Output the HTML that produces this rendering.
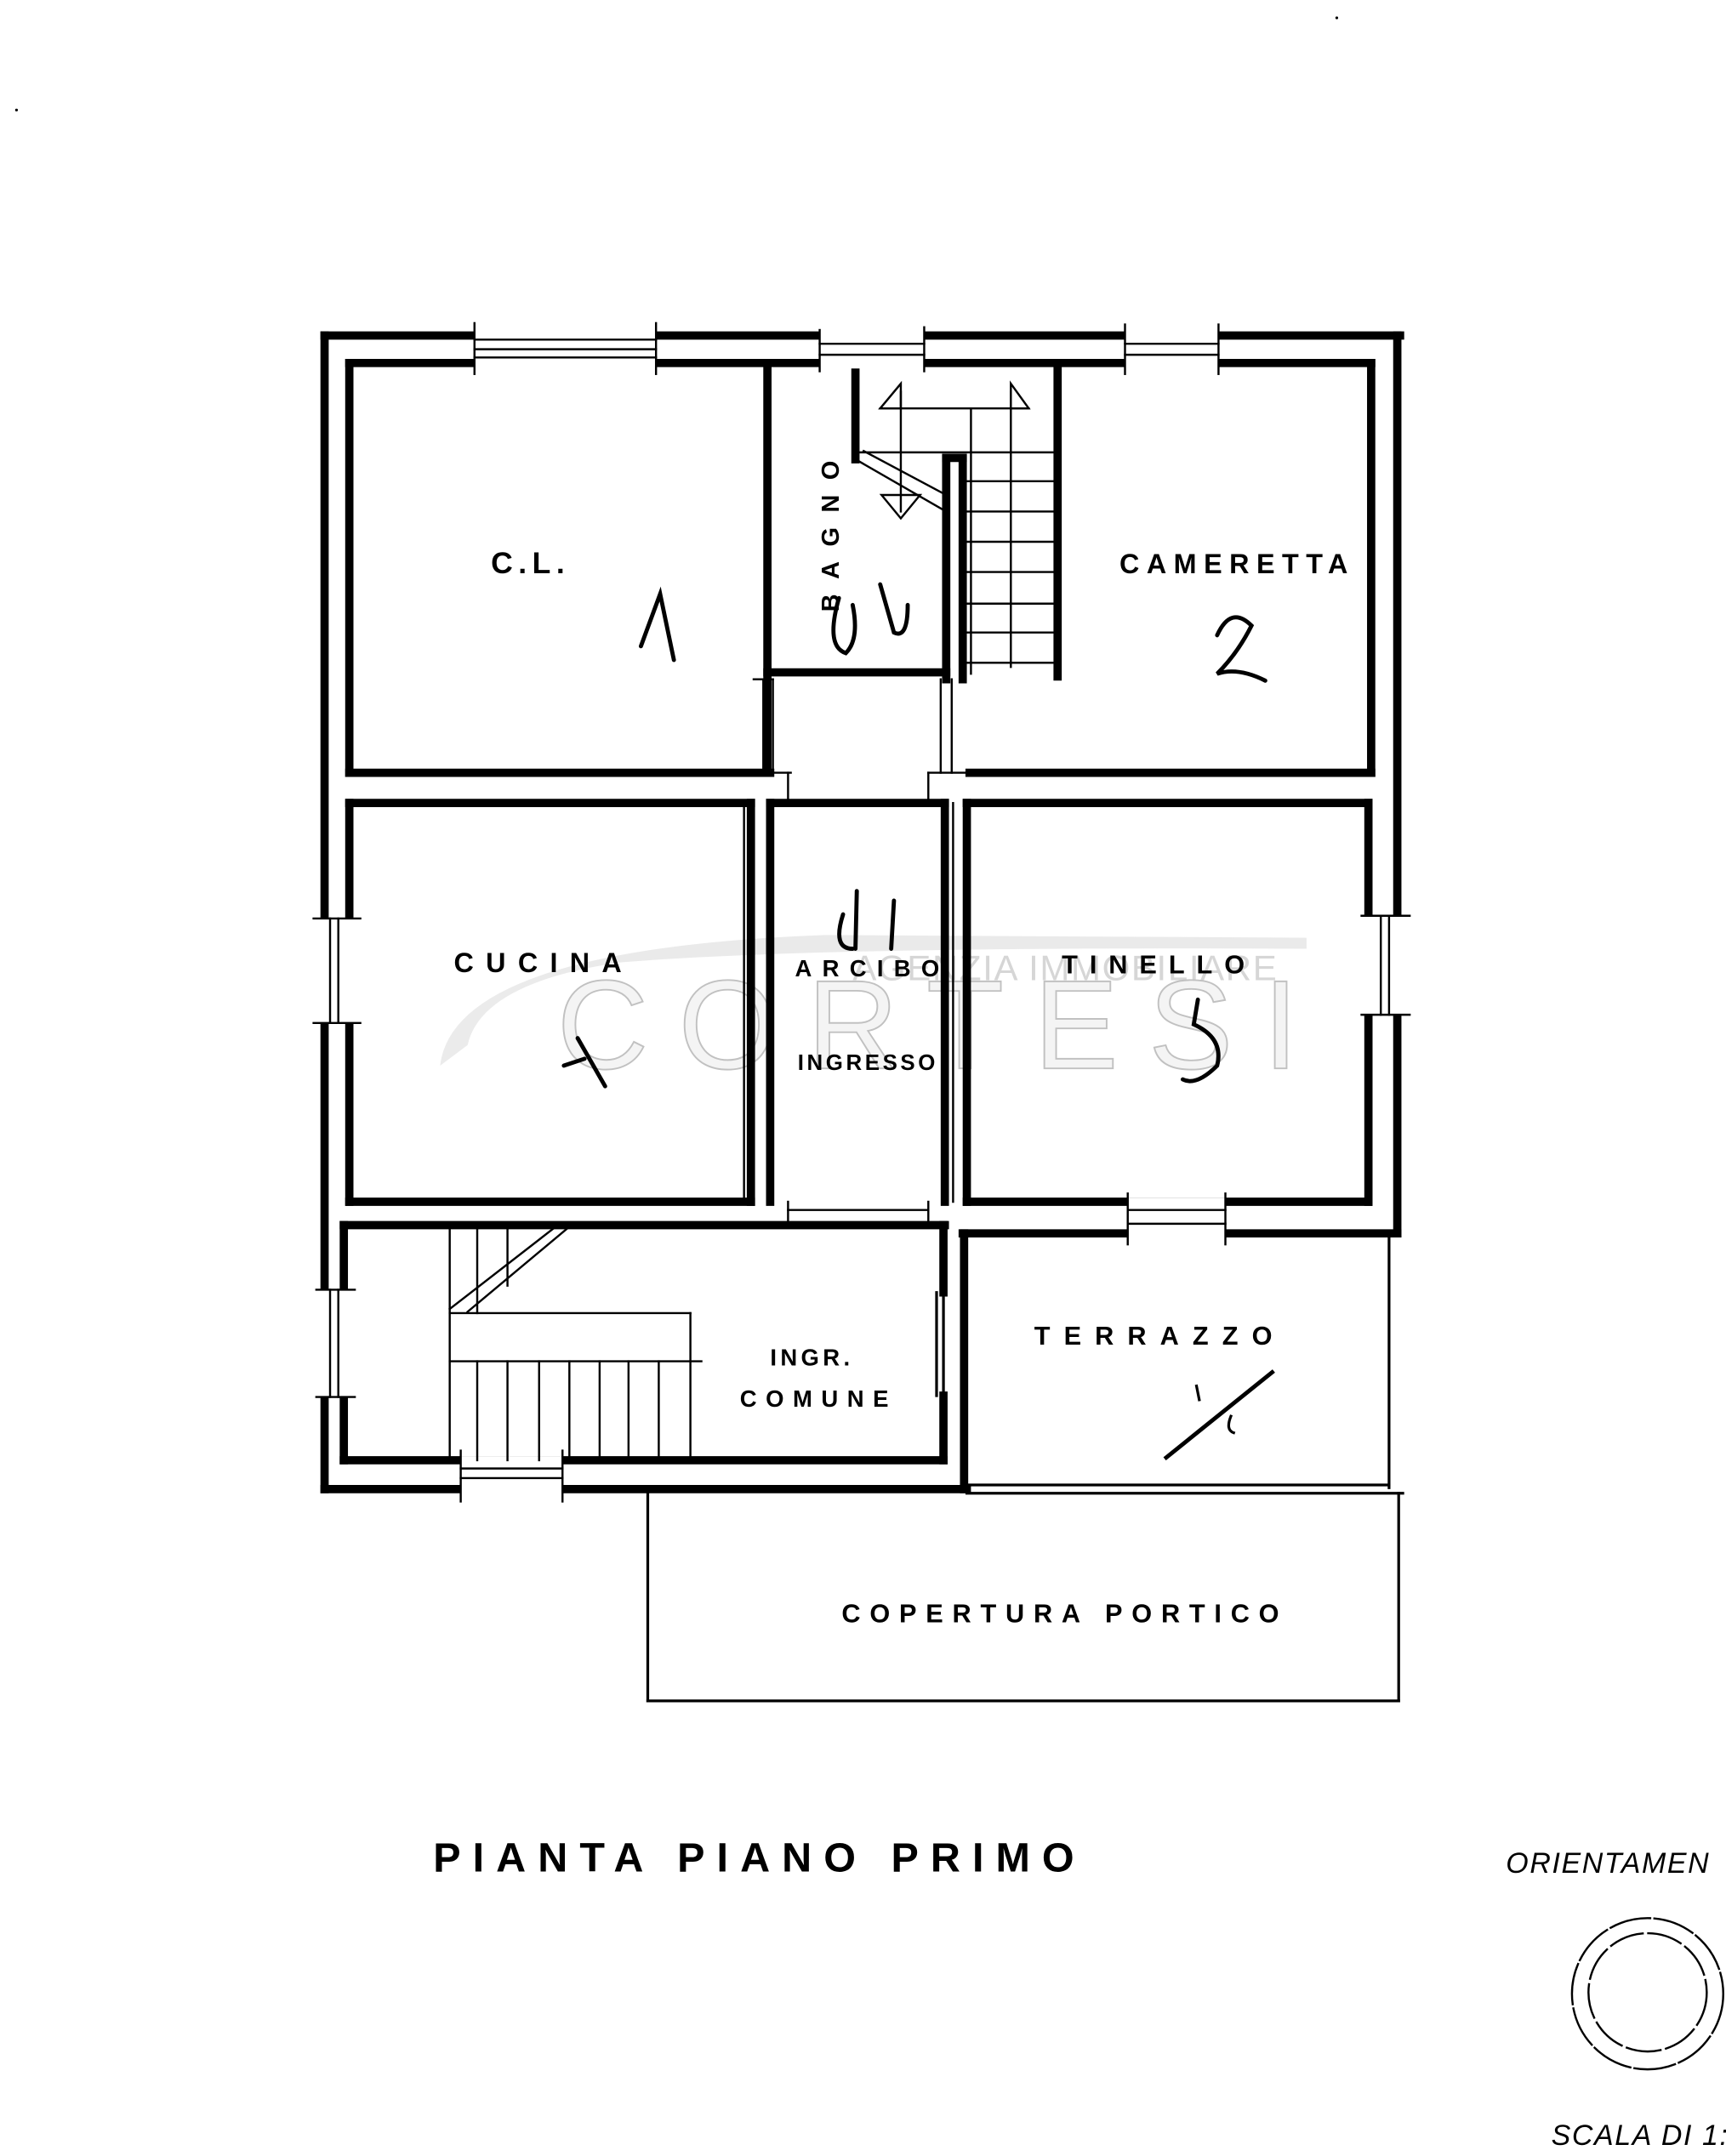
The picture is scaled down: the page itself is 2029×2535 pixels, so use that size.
<!DOCTYPE html>
<html><head><meta charset="utf-8">
<style>
html,body{margin:0;padding:0;background:#fff;}
svg{display:block;}
text{font-family:"Liberation Sans",sans-serif;}
</style></head>
<body>
<svg width="2029" height="2535" viewBox="0 0 1255 1568" preserveAspectRatio="none" xmlns="http://www.w3.org/2000/svg">
<rect width="1255" height="1568" fill="#fff"/>

<!-- watermark -->
<g opacity="0.6">
<path d="M320,775 Q330,690 600,680 L950,682 L950,690 Q600,688 450,700 Q350,715 340,760 Z" fill="#ddd"/>
<text x="620" y="713" font-family="Liberation Serif,serif" font-size="26" fill="#bbb" letter-spacing="1">AGENZIA IMMOBILIARE</text>
<text x="405" y="777" font-family="Liberation Serif,serif" font-size="92" fill="#eee" stroke="#999" stroke-width="1.2" letter-spacing="6" textLength="545">CORTESI</text>
</g>

<g fill="none" stroke="#000" stroke-linecap="square">
<g stroke-width="6">
<line x1="236" y1="244" x2="1018" y2="244"/>
<line x1="236" y1="244" x2="236" y2="1083"/>
<line x1="1016" y1="244" x2="1016" y2="897"/>
<line x1="236" y1="1083" x2="703" y2="1083"/>
<line x1="254" y1="264" x2="997" y2="264"/>
<line x1="254" y1="264" x2="254" y2="562"/>
<line x1="997" y1="264" x2="997" y2="562"/>
<line x1="254" y1="562" x2="560" y2="562"/>
<line x1="558" y1="264" x2="558" y2="562"/>
<line x1="558" y1="489" x2="688" y2="489"/>
<line x1="622" y1="264" x2="622" y2="334"/>
<line x1="769" y1="264" x2="769" y2="492"/>
<line x1="688" y1="333" x2="688" y2="494"/>
<line x1="700" y1="333" x2="700" y2="494"/>
<line x1="688" y1="333" x2="700" y2="333"/>
<line x1="705" y1="562" x2="997" y2="562"/>
<line x1="254" y1="584" x2="546" y2="584"/>
<line x1="254" y1="584" x2="254" y2="874"/>
<line x1="546" y1="584" x2="546" y2="874"/>
<line x1="254" y1="874" x2="546" y2="874"/>
<line x1="560" y1="584" x2="687" y2="584"/>
<line x1="560" y1="584" x2="560" y2="874"/>
<line x1="687" y1="584" x2="687" y2="874"/>
<line x1="703" y1="584" x2="995" y2="584"/>
<line x1="703" y1="584" x2="703" y2="874"/>
<line x1="995" y1="584" x2="995" y2="874"/>
<line x1="703" y1="874" x2="995" y2="874"/>
<line x1="250" y1="891" x2="687" y2="891"/>
<line x1="250" y1="891" x2="250" y2="1062"/>
<line x1="250" y1="1062" x2="686" y2="1062"/>
<line x1="686" y1="1015" x2="686" y2="1062"/>
<line x1="686" y1="891" x2="686" y2="940"/>
<line x1="700" y1="897" x2="1016" y2="897"/>
<line x1="701" y1="897" x2="701" y2="1083"/>
</g>
<g stroke-width="2">
<line x1="703" y1="1080" x2="1010" y2="1080"/>
<line x1="1010" y1="897" x2="1010" y2="1082"/>
<line x1="703" y1="1086" x2="1020" y2="1086"/>
<line x1="471" y1="1086" x2="471" y2="1237"/>
<line x1="1017" y1="1086" x2="1017" y2="1237"/>
<line x1="471" y1="1237" x2="1017" y2="1237"/>
<line x1="686" y1="940" x2="686" y2="1015"/>
<line x1="681" y1="940" x2="681" y2="1015"/>
</g>
<g stroke-width="1.5">
<rect x="345" y="240" width="132" height="28" fill="#fff" stroke="none"/>
<line x1="345" y1="247" x2="477" y2="247"/><line x1="345" y1="254" x2="477" y2="254"/><line x1="345" y1="260" x2="477" y2="260"/>
<line x1="345" y1="235" x2="345" y2="272"/><line x1="477" y1="235" x2="477" y2="272"/>
<rect x="596" y="240" width="76" height="28" fill="#fff" stroke="none"/>
<line x1="596" y1="250" x2="672" y2="250"/><line x1="596" y1="258" x2="672" y2="258"/>
<line x1="596" y1="240" x2="596" y2="270"/><line x1="672" y1="238" x2="672" y2="270"/>
<rect x="818" y="240" width="68" height="28" fill="#fff" stroke="none"/>
<line x1="818" y1="250" x2="886" y2="250"/><line x1="818" y1="258" x2="886" y2="258"/>
<line x1="818" y1="236" x2="818" y2="272"/><line x1="886" y1="236" x2="886" y2="272"/>
<rect x="231" y="668" width="28" height="76" fill="#fff" stroke="none"/>
<line x1="240" y1="668" x2="240" y2="744"/><line x1="246" y1="668" x2="246" y2="744"/>
<line x1="228" y1="668" x2="262" y2="668"/><line x1="228" y1="744" x2="262" y2="744"/>
<rect x="991" y="666" width="30" height="72" fill="#fff" stroke="none"/>
<line x1="1004" y1="666" x2="1004" y2="738"/><line x1="1010" y1="666" x2="1010" y2="738"/>
<line x1="990" y1="666" x2="1025" y2="666"/><line x1="990" y1="738" x2="1025" y2="738"/>
<rect x="231" y="938" width="26" height="78" fill="#fff" stroke="none"/>
<line x1="240" y1="938" x2="240" y2="1016"/><line x1="246" y1="938" x2="246" y2="1016"/>
<line x1="230" y1="938" x2="258" y2="938"/><line x1="230" y1="1016" x2="258" y2="1016"/>
<rect x="335" y="1059" width="74" height="28" fill="#fff" stroke="none"/>
<line x1="335" y1="1068" x2="409" y2="1068"/><line x1="335" y1="1075" x2="409" y2="1075"/>
<line x1="335" y1="1055" x2="335" y2="1092"/><line x1="409" y1="1055" x2="409" y2="1092"/>
<rect x="820" y="871" width="71" height="30" fill="#fff" stroke="none"/>
<line x1="820" y1="880" x2="891" y2="880"/><line x1="820" y1="890" x2="891" y2="890"/>
<line x1="820" y1="868" x2="820" y2="905"/><line x1="891" y1="868" x2="891" y2="905"/>
<line x1="555" y1="494" x2="555" y2="562"/><line x1="562" y1="494" x2="562" y2="562"/>
<line x1="548" y1="562" x2="575" y2="562"/><line x1="548" y1="494" x2="562" y2="494"/>
<line x1="684" y1="494" x2="684" y2="562"/><line x1="692" y1="494" x2="692" y2="562"/>
<line x1="675" y1="562" x2="715" y2="562"/>
<line x1="573" y1="562" x2="573" y2="584"/><line x1="675" y1="562" x2="675" y2="584"/>
<line x1="541" y1="584" x2="541" y2="874"/><line x1="693" y1="584" x2="693" y2="874"/>
<line x1="573" y1="874" x2="573" y2="891"/><line x1="675" y1="874" x2="675" y2="891"/>
<line x1="573" y1="880" x2="675" y2="880"/>
</g>
<g stroke-width="1.5">
<line x1="706" y1="297" x2="706" y2="490"/>
<line x1="735" y1="285" x2="735" y2="485"/>
<line x1="655" y1="285" x2="655" y2="372"/>
<line x1="640" y1="297" x2="748" y2="297"/>
<line x1="622" y1="329" x2="769" y2="329"/>
<polygon points="655,279 640,297 655,297"/>
<polygon points="735,279 748,297 735,297"/>
<polygon points="641,360 669,360 655,377"/>
<line x1="700" y1="350" x2="769" y2="350"/><line x1="700" y1="372" x2="769" y2="372"/>
<line x1="700" y1="394" x2="769" y2="394"/><line x1="700" y1="416" x2="769" y2="416"/>
<line x1="700" y1="439" x2="769" y2="439"/><line x1="700" y1="460" x2="769" y2="460"/>
<line x1="700" y1="482" x2="769" y2="482"/>
<line x1="622" y1="334" x2="688" y2="372"/>
<line x1="628" y1="328" x2="688" y2="360"/>
</g>
<g stroke-width="1.5">
<line x1="327" y1="955" x2="502" y2="955"/>
<line x1="327" y1="990" x2="510" y2="990"/>
<line x1="502" y1="955" x2="502" y2="1062"/>
<line x1="327" y1="891" x2="327" y2="1062"/><line x1="347" y1="891" x2="347" y2="955"/><line x1="369" y1="891" x2="369" y2="935"/>
<line x1="347" y1="990" x2="347" y2="1062"/><line x1="369" y1="990" x2="369" y2="1062"/>
<line x1="392" y1="990" x2="392" y2="1062"/><line x1="414" y1="990" x2="414" y2="1062"/>
<line x1="436" y1="990" x2="436" y2="1062"/><line x1="457" y1="990" x2="457" y2="1062"/>
<line x1="479" y1="990" x2="479" y2="1062"/>
<line x1="403" y1="893" x2="327" y2="952"/>
<line x1="413" y1="893" x2="340" y2="954"/>
</g>
<line x1="848" y1="1060" x2="925" y2="998" stroke-width="3"/>
<path d="M870,1008 L872,1018 M895,1030 q-4,10 2,12" stroke-width="2"/>
<g stroke-width="3" stroke-linecap="round">
<path d="M466,470 L480,432 L490,480"/>
<path d="M885,462 Q895,440 910,455 Q900,475 885,490 Q900,485 920,495"/>
<path d="M871,727 L868,745 Q890,755 885,775 Q870,790 860,785"/>
<path d="M623,648 L622,690 M613,665 Q605,690 620,690 M650,655 L648,690"/>
<path d="M420,755 L440,790 M425,770 L410,775"/>
<path d="M610,435 Q600,470 615,475 Q625,465 620,440 M640,425 L650,460 Q660,465 660,440"/>
</g>
<circle cx="1198" cy="1450" r="55" stroke-width="1.5" stroke-dasharray="30 3"/>
<circle cx="1198" cy="1449" r="43" stroke-width="1.5" stroke-dasharray="25 4"/>
</g>

<g fill="#000" font-weight="bold">
<text x="357" y="417" font-size="22" letter-spacing="4">C.L.</text>
<text x="814" y="417" font-size="20" letter-spacing="2" textLength="168">CAMERETTA</text>
<text x="330" y="707" font-size="20" letter-spacing="3" textLength="125">CUCINA</text>
<text x="772" y="708" font-size="19" letter-spacing="2" textLength="135">TINELLO</text>
<text x="578" y="710" font-size="17" textLength="105">ARCIBO</text>
<text x="580" y="778" font-size="16" textLength="100">INGRESSO</text>
<text x="560" y="993" font-size="17" textLength="58">INGR.</text>
<text x="538" y="1023" font-size="17" textLength="108">COMUNE</text>
<text x="752" y="978" font-size="19" letter-spacing="2" textLength="175">TERRAZZO</text>
<text x="612" y="1180" font-size="19" letter-spacing="2" textLength="320">COPERTURA PORTICO</text>
<text x="0" y="0" font-size="18" transform="translate(610,445) rotate(-90)" textLength="110">BAGNO</text>
<text x="315" y="1361" font-size="30" letter-spacing="4" textLength="470">PIANTA PIANO PRIMO</text>
</g>
<g fill="#000" font-style="italic">
<text x="1095" y="1362" font-size="21" letter-spacing="1">ORIENTAMEN</text>
<text x="1128" y="1560" font-size="21" letter-spacing="1">SCALA DI 1:</text>
</g>
<circle cx="972" cy="13" r="1" fill="#000"/>
<circle cx="12" cy="80" r="1" fill="#000"/>
</svg>
</body></html>
